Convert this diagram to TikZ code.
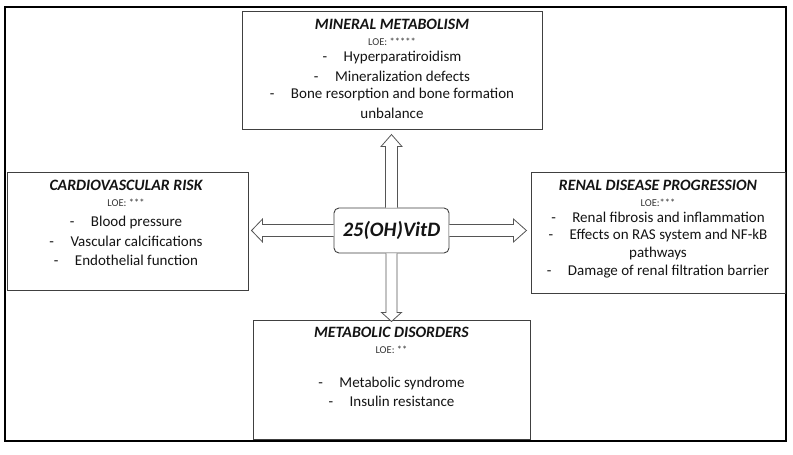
\documentclass[tikz,border=0pt]{standalone}
\usepackage{fontspec}
\setmainfont{Carlito}
\usetikzlibrary{calc}
\definecolor{txt}{HTML}{141414}
\definecolor{bord}{HTML}{404040}
\definecolor{arr}{HTML}{555555}
\tikzset{
  boxrect/.style={draw=bord, line width=0.9pt, fill=white, inner sep=0pt},
  ttl/.style={text=txt, font=\fontsize{15.8}{18}\selectfont\bfseries\itshape, inner sep=0pt, anchor=center},
  loe/.style={text=txt!85, font=\fontsize{10.5}{12}\selectfont, inner sep=0pt, anchor=center},
  item/.style={text=txt, font=\fontsize{15}{17}\selectfont, inner sep=0pt, anchor=center},
  blockarrow/.style={draw=arr, line width=0.8pt, fill=white, line join=miter},
}
\newcommand{\itm}[1]{-\hspace{1.1em}#1}
\begin{document}
\begin{tikzpicture}[x=1pt,y=-1pt]
\useasboundingbox[fill=white] (0,0) rectangle (793,455);
\draw[line width=2.6pt, black] (5,7) rectangle (786,441);

% boxes
\node[boxrect, minimum width=300pt, minimum height=118pt] (min) at (392,70) {};
\node[boxrect, minimum width=241pt, minimum height=118pt] (cv) at (127.5,231) {};
\node[boxrect, minimum width=254pt, minimum height=121pt] (ren) at (658,232.5) {};
\node[boxrect, minimum width=277pt, minimum height=119pt] (met) at (391.5,379.5) {};

% center
\node[draw=bord, line width=0.9pt, fill=white, rounded corners=5pt, minimum width=115pt, minimum height=45pt, inner sep=0pt,
      font=\fontsize{20.5}{24}\selectfont\bfseries\itshape, text=txt] (c) at (391.5,230.5) {25(OH)VitD};

% arrows
\draw[blockarrow] ($(c.north)+(-6,0)$) -- ++(0,-61) -- ++(-4.5,0) -- ++(10.5,-12) -- ++(10.5,12) -- ++(-4.5,0) -- ($(c.north)+(6,0)$);
\draw[blockarrow] ($(c.south)+(-5.5,0)$) -- ++(0,59) -- ++(-4.5,0) -- ++(10,9) -- ++(10,-9) -- ++(-4.5,0) -- ($(c.south)+(5.5,0)$);
\draw[blockarrow] ($(c.west)+(0,-6)$) -- ++(-71,0) -- ++(0,-5.5) -- ++(-11,11.5) -- ++(11,11.5) -- ++(0,-5.5) -- ($(c.west)+(0,6)$);
\draw[blockarrow] ($(c.east)+(0,-6)$) -- ++(64,0) -- ++(0,-5.5) -- ++(13,11.5) -- ++(-13,11.5) -- ++(0,-5.5) -- ($(c.east)+(0,6)$);

% mineral text
\node[ttl] (min0) at (392,24) {MINERAL METABOLISM};
\node[loe] (min1) at (392,42) {LOE: *****};
\node[item] (min2) at (392,58) {\itm{Hyperparatiroidism}};
\node[item] (min3) at (392,76) {\itm{Mineralization defects}};
\node[item] (min4) at (392,95) {\itm{Bone resorption and bone formation}};
\node[item] (min5) at (392,113) {unbalance};

% cardiovascular text
\node[ttl] (cv0) at (126,185) {CARDIOVASCULAR RISK};
\node[loe] (cv1) at (126,203) {LOE: ***};
\node[item] (cv2) at (126,222) {\itm{Blood pressure}};
\node[item] (cv3) at (126,241) {\itm{Vascular calcifications}};
\node[item] (cv4) at (126,260) {\itm{Endothelial function}};

% renal text
\node[ttl] (ren0) at (658,185) {RENAL DISEASE PROGRESSION};
\node[loe] (ren1) at (658,203) {LOE:***};
\node[item] (ren2) at (658,217) {\itm{Renal fibrosis and inflammation}};
\node[item] (ren3) at (658,235.5) {\itm{Effects on RAS system and NF-kB}};
\node[item] (ren4) at (658,253.5) {pathways};
\node[item] (ren5) at (658,272) {\itm{Damage of renal filtration barrier}};

% metabolic text
\node[ttl] (met0) at (391.5,332) {METABOLIC DISORDERS};
\node[loe] (met1) at (391.5,350) {LOE: **};
\node[item] (met2) at (391.5,383) {\itm{Metabolic syndrome}};
\node[item] (met3) at (391.5,401.5) {\itm{Insulin resistance}};
\end{tikzpicture}
\end{document}
